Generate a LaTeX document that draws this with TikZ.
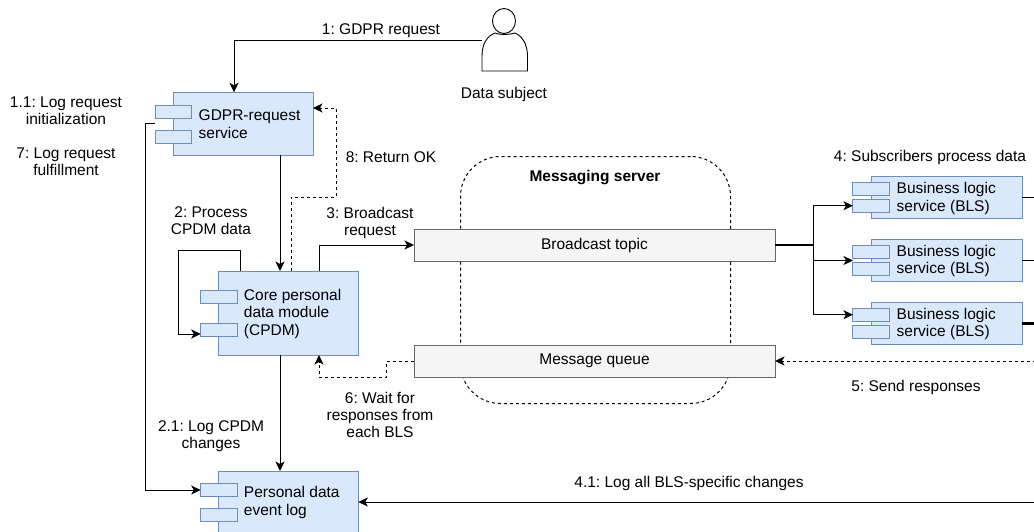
\documentclass[tikz,border=0pt]{standalone}
\usepackage{fontspec}
\setmainfont{Liberation Sans}
\usetikzlibrary{positioning,arrows.meta}
\frenchspacing

\definecolor{compfill}{HTML}{DAE8FC}
\definecolor{compline}{HTML}{6C8EBF}
\definecolor{topicfill}{HTML}{F5F5F5}
\definecolor{topicline}{HTML}{666666}

\tikzset{
	lbl/.style={inner sep=0pt, align=center, yshift=-1pt, font=\fontsize{15.5}{17}\selectfont},
	comptext/.style={inner sep=0pt, align=left, font=\fontsize{15.5}{17.5}\selectfont},
	compbox/.style={draw=compline, fill=compfill, line width=1pt, inner sep=0pt, outer sep=0pt},
	comptab/.style={compbox, minimum width=36.5pt, minimum height=13pt},
	topicbox/.style={draw=topicline, fill=topicfill, line width=1pt, inner sep=0pt, outer sep=0pt, minimum width=361pt, minimum height=32pt, font=\fontsize{15.5}{17}\selectfont},
	flow/.style={line width=1pt, -{Stealth[length=9.5pt,width=9pt,inset=2.5pt]}},
	dashflow/.style={flow, dash pattern=on 3pt off 3pt},
}

\begin{document}
\begin{tikzpicture}[x=1pt, y=-1pt]

	\useasboundingbox (0,0) rectangle (1034,531);
	\clip (0,0) rectangle (1034,531);

	% messaging server
	\node[draw, line width=1pt, dash pattern=on 3pt off 3pt, rounded corners=40pt, minimum width=270pt, minimum height=247pt, inner sep=0pt, outer sep=0pt] (server) at (595.5,280) {};
	\node[lbl, font=\fontsize{15.5}{17}\selectfont\bfseries] (servertext) at (595,177) {Messaging server};
	\node[topicbox] (topic) at (594.5,245) {Broadcast topic};
	\node[topicbox] (queue) at (594.5,361) {Message queue};

	% data subject
	\draw[line width=0.9pt] (504,21) ellipse [x radius=11.5, y radius=12.5];
	\draw[line width=0.9pt] (482,71) -- (482,56) .. controls (482,44) and (487,36) .. (495,33) .. controls (500,35) and (508,35) .. (515,33) .. controls (522,36) and (527.5,44) .. (527.5,56) -- (527.5,71) -- cycle;
	\coordinate (subjectport) at (482,40);
	\node[lbl] (subjecttext) at (504,93) {Data subject};

	% gdpr service
	\node[compbox, minimum width=140pt, minimum height=63pt] (gdpr) at (243,123.8) {};
	\node[comptab] (gdprtaba) at (173.5,111.5) {};
	\node[comptab] (gdprtabb) at (173.5,136.5) {};
	\node[comptext, right=25.5pt of gdpr.west, yshift=-0.6pt] (gdprtext) {GDPR-request\\service};

	% core module
	\node[compbox, minimum width=139.5pt, minimum height=84pt] (cpdm) at (288.5,313) {};
	\node[comptab] (cpdmtaba) at (219,296.5) {};
	\node[comptab] (cpdmtabb) at (219,330) {};
	\node[comptext, right=25pt of cpdm.west, yshift=-0.6pt] (cpdmtext) {Core personal\\data module\\(CPDM)};

	% event log
	\node[compbox, minimum width=139.5pt, minimum height=70pt] (logbox) at (288.5,506) {};
	\node[comptab] (logtaba) at (219,490) {};
	\node[comptab] (logtabb) at (219,514.5) {};
	\node[comptext, right=25pt of logbox.west, yshift=3.4pt] (logtext) {Personal data\\event log};

	% the three subscribers
	\foreach \i/\y/\w in {a/197.7/1, b/260.5/1.5, c/323.5/2.2}{
		\node[compbox, minimum width=151pt, minimum height=42.5pt] (bls\i) at (946.5,\y) {};
		\node[comptab] (bls\i taba) at (871.2,\y-8.8) {};
		\node[comptab] (bls\i tabb) at (871.2,\y+8) {};
		\node[comptext, right=25.5pt of bls\i.west, yshift=-0.6pt] (bls\i text) {Business logic\\service (BLS)};
		\coordinate (edge\i) at (1036,\y);
		\draw[line width=\w pt] (bls\i.east) -- (edge\i);
	}
	\coordinate (edgequeue) at (1036,361);
	\coordinate (edgelog) at (1036,502);

	% connectors
	\draw[flow] (subjectport) -| ([xshift=-9pt]gdpr.north);
	\draw[flow] ([xshift=-18pt]gdpr.west) -- ++(-10,0) |- (logtaba.west);
	\draw[flow] ([xshift=37pt]gdpr.south) -- ([xshift=-8.5pt]cpdm.north);
	\draw[flow] ([xshift=-48.5pt]cpdm.north) -- ++(0,-21) -- ++(-61.5,0) |- ([yshift=-4pt]cpdmtabb.west);
	\draw[dashflow] ([xshift=2.5pt]cpdm.north) -- ++(0,-74) -- ++(45,0) |- ([yshift=15.8pt]gdpr.east);
	\draw[flow] ([xshift=30.5pt]cpdm.north) |- (topic.west);
	\draw[dashflow] (queue.west) -- ++(-27.5,0) -- ++(0,16) -| ([xshift=30.5pt]cpdm.south);
	\draw[flow] ([xshift=-8.5pt]cpdm.south) -- ([xshift=-8.5pt]logbox.north);
	\draw[line width=1.6pt] (topic.east) -- ++(38,0);
	\draw[flow] (topic.east) -- ++(38,0) |- (blsatabb.west);
	\draw[flow] (topic.east) -- ++(38,0) |- ([xshift=-18pt]blsb.west);
	\draw[flow] (topic.east) -- ++(38,0) |- (blsctaba.west);
	\draw[dashflow] (edgequeue) -- (queue.east);
	\draw[flow] (edgelog) -- (edgelog -| logbox.east);

	% labels
	\node[lbl] (reqtext) at (381,30) {1: GDPR request};
	\node[lbl] (inittext) at (66,110) {1.1: Log request\\initialization};
	\node[lbl] (fulfiltext) at (66,160.5) {7: Log request\\fulfillment};
	\node[lbl] (oktext) at (391,156) {8: Return OK};
	\node[lbl] (processtext) at (211,219.5) {2: Process\\CPDM data};
	\node[lbl] (broadtext) at (370,221.5) {3: Broadcast\\request};
	\node[lbl] (waittext) at (380,414) {6: Wait for\\responses from\\each BLS};
	\node[lbl] (cpdmlogtext) at (211,435) {2.1: Log CPDM\\changes};
	\node[lbl] (subtext) at (930,156) {4: Subscribers process data};
	\node[lbl] (resptext) at (916,386) {5: Send responses};
	\node[lbl] (blslogtext) at (689,482) {4.1: Log all BLS-specific changes};

\end{tikzpicture}
\end{document}
